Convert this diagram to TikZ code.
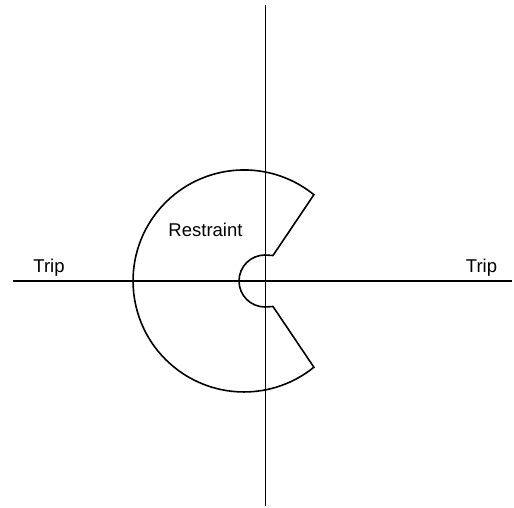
\documentclass[tikz,border=0pt]{standalone}
\usepackage{fontspec}
\setmainfont{Liberation Sans}
\usetikzlibrary{calc}
\begin{document}
\begin{tikzpicture}[x=1pt,y=-1pt,
  axis/.style={line width=1.6pt,black},
  outline/.style={line width=1.6pt,black,line join=miter},
  lbl/.style={font=\fontsize{18.5}{21}\selectfont,anchor=base,inner sep=0pt}]
\useasboundingbox (0,0) rectangle (514,508);
% axes
\coordinate (vt) at (265.5,5);
\coordinate (vb) at (265.5,506);
\coordinate (hl) at (13,281);
\coordinate (hr) at (512,281);
\draw[axis] (vt) -- (vb);
\draw[axis] (hl) -- (hr);
% restraint region
\coordinate (bc) at (244,281);
\coordinate (bs) at ($(bc)+(69.9,-86.3)$);
\draw[outline] (bs)
  arc[start angle=-51,end angle=-309,radius=111]
  -- (273,306.5) -- (265,307)
  arc[start angle=90,end angle=270,radius=26]
  -- (273,255.5) -- cycle;
% labels
\node[lbl] (trl) at (49,272) {Trip};
\node[lbl] (trr) at (481.5,272) {Trip};
\node[lbl] (rst) at (205.5,236) {Restraint};
\end{tikzpicture}
\end{document}
